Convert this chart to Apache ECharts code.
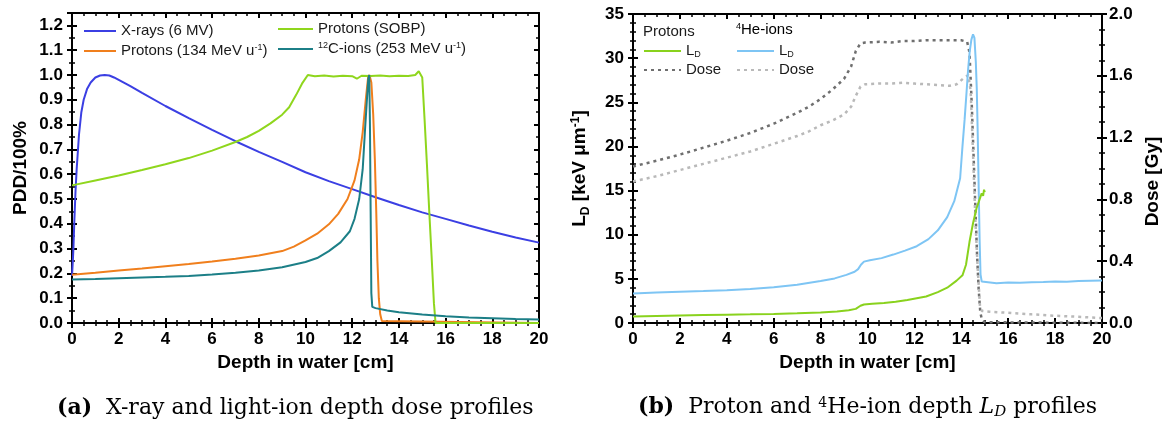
<!DOCTYPE html>
<html>
<head>
<meta charset="utf-8">
<script src="https://cdn.jsdelivr.net/npm/echarts@6/dist/echarts.min.js"></script>
<style>
  html, body { margin: 0; padding: 0; background: #ffffff; }
  #chart { width: 1167px; height: 423px; }
</style>
</head>
<body>
<div id="chart"></div>
<script>
// ---------- Panel (a): percentage depth dose, normalised ----------
const xrayDepth = [0, 0.03, 0.06, 0.1, 0.15, 0.2, 0.3, 0.4, 0.5, 0.65, 0.8, 1.0, 1.2, 1.4, 1.6, 1.8, 2.0, 2.5, 3, 4, 5, 6, 7, 8, 9, 10, 11, 12, 13, 14, 15, 16, 17, 18, 19, 20];
const xrayPdd   = [0.19, 0.24, 0.3, 0.41, 0.53, 0.62, 0.76, 0.85, 0.9, 0.945, 0.97, 0.99, 0.998, 1.0, 0.998, 0.99, 0.98, 0.955, 0.928, 0.875, 0.826, 0.779, 0.733, 0.69, 0.65, 0.608, 0.572, 0.54, 0.507, 0.476, 0.446, 0.42, 0.393, 0.368, 0.345, 0.324];

const p134Depth = [0, 1, 2, 3, 4, 5, 6, 7, 8, 9, 9.5, 10, 10.5, 11, 11.4, 11.8, 12.1, 12.3, 12.45, 12.58, 12.68, 12.74, 12.82, 12.9, 12.97, 13.03, 13.08, 13.14, 13.2, 13.27, 13.35, 20];
const p134Pdd   = [0.195, 0.203, 0.212, 0.22, 0.229, 0.238, 0.248, 0.259, 0.272, 0.29, 0.308, 0.333, 0.36, 0.398, 0.44, 0.5, 0.575, 0.66, 0.77, 0.9, 0.99, 1.0, 0.97, 0.84, 0.66, 0.45, 0.25, 0.1, 0.035, 0.008, 0.0, 0.0];

const sobpDepth = [0, 1, 2, 3, 4, 5, 6, 7, 7.5, 8, 8.5, 9, 9.3, 9.6, 9.85, 10.1, 10.4, 10.8, 11.2, 11.6, 12.0, 12.2, 12.4, 12.8, 13.2, 13.6, 14.0, 14.4, 14.7, 14.85, 14.93, 15.0, 15.1, 15.2, 15.3, 15.4, 15.5, 15.57, 20];
const sobpPdd   = [0.555, 0.575, 0.595, 0.617, 0.64, 0.665, 0.695, 0.73, 0.75, 0.775, 0.805, 0.84, 0.87, 0.92, 0.965, 1.0, 0.995, 0.998, 0.994, 0.997, 0.995, 0.985, 0.997, 0.996, 0.998, 0.995, 0.997, 0.996, 1.0, 1.015, 1.02, 0.99, 0.82, 0.64, 0.45, 0.27, 0.08, 0.0, 0.0];

const c12Depth = [0, 1, 2, 3, 4, 5, 6, 7, 8, 9, 10, 10.5, 11, 11.5, 11.9, 12.1, 12.3, 12.45, 12.55, 12.63, 12.69, 12.73, 12.76, 12.79, 12.82, 12.86, 13, 13.5, 14, 15, 16, 17, 18, 19, 20];
const c12Pdd   = [0.175, 0.177, 0.18, 0.183, 0.186, 0.19, 0.196, 0.203, 0.212, 0.225, 0.246, 0.262, 0.29, 0.325, 0.37, 0.42, 0.5, 0.62, 0.78, 0.9, 0.985, 1.0, 0.8, 0.45, 0.12, 0.065, 0.06, 0.05, 0.043, 0.034, 0.027, 0.022, 0.019, 0.016, 0.014];

// ---------- Panel (b): dose-averaged LET and dose ----------
const pLdDepth = [0, 1, 2, 3, 4, 5, 6, 7, 8, 8.7, 9.2, 9.5, 9.7, 9.85, 10.2, 10.7, 11.2, 11.7, 12.1, 12.5, 13, 13.4, 13.8, 14.05, 14.2, 14.35, 14.5, 14.65, 14.78, 14.87, 14.93, 14.97, 15.0];
const pLd      = [0.75, 0.8, 0.85, 0.9, 0.94, 0.98, 1.03, 1.1, 1.2, 1.3, 1.45, 1.6, 1.95, 2.1, 2.18, 2.26, 2.4, 2.6, 2.8, 3.0, 3.5, 4.0, 4.8, 5.4, 6.6, 9.2, 11.3, 13.0, 14.0, 14.7, 14.4, 15.1, 14.8];

const heLdDepth = [0, 1, 2, 3, 4, 5, 6, 7, 8, 8.6, 9.1, 9.45, 9.6, 9.72, 9.85, 10.1, 10.6, 11.1, 11.6, 12.1, 12.6, 13.0, 13.4, 13.7, 13.95, 14.05, 14.14, 14.22, 14.29, 14.36, 14.43, 14.5, 14.56, 14.62, 14.66, 14.7, 14.74, 14.78, 14.82, 14.87, 14.95, 15.5, 16, 16.5, 17, 17.5, 18, 18.5, 19, 19.5, 20];
const heLd      = [3.35, 3.45, 3.55, 3.62, 3.7, 3.85, 4.05, 4.33, 4.75, 5.05, 5.45, 5.8, 6.1, 6.6, 6.95, 7.1, 7.35, 7.75, 8.2, 8.7, 9.5, 10.5, 12.0, 13.8, 16.4, 20.0, 23.0, 26.0, 28.7, 30.8, 32.1, 32.7, 32.3, 29.5, 26.5, 21.5, 15.5, 9.5, 5.5, 4.7, 4.55, 4.5, 4.6, 4.55, 4.62, 4.65, 4.7, 4.68, 4.75, 4.78, 4.8];

const pDoseDepth = [0, 1, 2, 3, 4, 5, 6, 7, 7.5, 8, 8.5, 9, 9.3, 9.5, 9.7, 9.9, 10.5, 11, 11.5, 12, 12.5, 13, 13.5, 14, 14.25, 14.35, 14.45, 14.52, 14.6, 14.67, 14.74, 14.81, 14.88, 15.0, 20];
const pDose      = [1.013, 1.05, 1.09, 1.135, 1.18, 1.23, 1.29, 1.36, 1.40, 1.45, 1.51, 1.58, 1.66, 1.76, 1.81, 1.815, 1.82, 1.815, 1.825, 1.825, 1.83, 1.83, 1.83, 1.83, 1.82, 1.75, 1.4, 1.1, 0.75, 0.45, 0.22, 0.07, 0.02, 0.005, 0.0];

const heDoseDepth = [0, 1, 2, 3, 4, 5, 6, 7, 7.5, 8, 8.5, 9, 9.3, 9.5, 9.7, 9.9, 10.5, 11, 11.5, 12, 12.5, 13, 13.5, 13.8, 14.1, 14.3, 14.4, 14.5, 14.6, 14.7, 14.8, 14.88, 15.2, 16, 17, 18, 19, 20];
const heDose      = [0.916, 0.95, 0.99, 1.03, 1.07, 1.11, 1.16, 1.21, 1.24, 1.28, 1.31, 1.35, 1.40, 1.47, 1.53, 1.545, 1.55, 1.55, 1.555, 1.55, 1.545, 1.54, 1.535, 1.545, 1.585, 1.605, 1.5, 1.1, 0.67, 0.35, 0.1, 0.078, 0.073, 0.066, 0.056, 0.047, 0.04, 0.032];

// ---------- styling ----------
const SANS = '"Liberation Sans", Arial, Helvetica, sans-serif';
const SERIF = '"DejaVu Serif", "Liberation Serif", serif';
const tickFont = { color: '#000', fontFamily: SANS, fontSize: 17, fontWeight: 'bold' };
const nameFont = { color: '#000', fontFamily: SANS, fontSize: 19, fontWeight: 'bold' };

const pairs = (xs, ys) => xs.map((x, i) => [x, ys[i]]);

function makeAxis(o) {
  return {
    type: 'value',
    gridIndex: o.grid,
    position: o.position,
    min: o.min, max: o.max, interval: o.interval,
    splitLine: { show: false },
    axisLine: { show: !!o.line, onZero: false, lineStyle: { color: '#000', width: 2 } },
    axisTick: { show: true, inside: !!o.inside, length: o.tickLen || 5, lineStyle: { color: '#000', width: o.tickWidth || 2 } },
    minorTick: { show: !!o.minor, splitNumber: o.minor || 5, length: 3, lineStyle: { color: '#000', width: 1.5 } },
    axisLabel: o.label ? Object.assign({ show: true, margin: o.margin || 8 }, tickFont, { formatter: o.label }) : { show: false },
    name: o.name || '',
    nameLocation: 'middle',
    nameGap: o.nameGap || 0,
    nameRotate: o.nameRotate,
    nameTextStyle: o.nameStyle || nameFont,
    silent: true
  };
}

const fixed1 = v => v.toFixed(1);
const integer = v => String(Math.round(v));
const pddLabel = v => (Math.abs(v - 1.25) < 1e-9 ? '' : v.toFixed(1));

const xAxes = [];
const yAxes = [];
// panel (a) axes: ticks cross the frame, so each side gets an outward and an inward tick set
xAxes.push(makeAxis({ grid: 0, position: 'bottom', min: 0, max: 20, interval: 2, minor: 4, line: true, label: integer, margin: 8,
  name: 'Depth in water [cm]', nameGap: 29 }));
xAxes.push(makeAxis({ grid: 0, position: 'bottom', min: 0, max: 20, interval: 2, minor: 4, inside: true }));
xAxes.push(makeAxis({ grid: 0, position: 'top', min: 0, max: 20, interval: 2, minor: 4, inside: true, line: true }));
yAxes.push(makeAxis({ grid: 0, position: 'left', min: 0, max: 1.25, interval: 0.1, line: true, label: pddLabel, margin: 9,
  name: 'PDD/100%', nameGap: 42, nameRotate: 90 }));
yAxes.push(makeAxis({ grid: 0, position: 'left', min: 0, max: 1.25, interval: 0.1, inside: true }));
yAxes.push(makeAxis({ grid: 0, position: 'left', min: 0, max: 1.25, interval: 0.05, tickLen: 3, tickWidth: 1.5 }));
yAxes.push(makeAxis({ grid: 0, position: 'left', min: 0, max: 1.25, interval: 0.05, tickLen: 3, tickWidth: 1.5, inside: true }));
yAxes.push(makeAxis({ grid: 0, position: 'right', min: 0, max: 1.25, interval: 0.1, inside: true, line: true }));
yAxes.push(makeAxis({ grid: 0, position: 'right', min: 0, max: 1.25, interval: 0.05, tickLen: 3, tickWidth: 1.5, inside: true }));

// panel (b) axes
xAxes.push(makeAxis({ grid: 1, position: 'bottom', min: 0, max: 20, interval: 2, minor: 4, line: true, label: integer, margin: 8,
  name: 'Depth in water [cm]', nameGap: 29 }));
xAxes.push(makeAxis({ grid: 1, position: 'bottom', min: 0, max: 20, interval: 2, minor: 4, inside: true }));
xAxes.push(makeAxis({ grid: 1, position: 'top', min: 0, max: 20, interval: 2, minor: 4, inside: true, line: true }));
yAxes.push(makeAxis({ grid: 1, position: 'left', min: 0, max: 35, interval: 5, minor: 5, line: true, label: integer, margin: 9,
  name: '{b|L}{sub|D}{b| [keV μm}{sup|-1}{b|]}', nameGap: 41, nameRotate: 90,
  nameStyle: {
    rich: {
      b:   { fontFamily: SANS, fontSize: 19, fontWeight: 'bold', color: '#000', lineHeight: 22, verticalAlign: 'top' },
      sub: { fontFamily: SANS, fontSize: 12, fontWeight: 'bold', color: '#000', lineHeight: 12, verticalAlign: 'bottom', padding: [14, 0, 0, 0] },
      sup: { fontFamily: SANS, fontSize: 12, fontWeight: 'bold', color: '#000', lineHeight: 12, verticalAlign: 'top' }
    }
  } }));
yAxes.push(makeAxis({ grid: 1, position: 'left', min: 0, max: 35, interval: 5, minor: 5, inside: true }));
yAxes.push(makeAxis({ grid: 1, position: 'right', min: 0, max: 2, interval: 0.4, minor: 4, line: true, label: fixed1, margin: 7,
  name: 'Dose [Gy]', nameGap: 41, nameRotate: 90,
  nameStyle: Object.assign({}, nameFont, { padding: [0, 26, 0, 0] }) }));
yAxes.push(makeAxis({ grid: 1, position: 'right', min: 0, max: 2, interval: 0.4, minor: 4, inside: true }));

const Y_LD = 6, Y_DOSE = 8;

function lineSeries(name, x, y, color, xi, yi, extra) {
  return Object.assign({
    name, type: 'line', xAxisIndex: xi, yAxisIndex: yi,
    data: pairs(x, y), symbol: 'none', showSymbol: false, silent: true,
    lineStyle: { color, width: 2 }, itemStyle: { color },
    animation: false, z: 5
  }, extra || {});
}

const dotted = { type: [3, 4], width: 2.5 };

const series = [
  lineSeries('xray', xrayDepth, xrayPdd, '#3b3fe3', 0, 0),
  lineSeries('p134', p134Depth, p134Pdd, '#f07f1d', 0, 0),
  lineSeries('sobp', sobpDepth, sobpPdd, '#8fd61d', 0, 0),
  lineSeries('c12', c12Depth, c12Pdd, '#1c7f87', 0, 0),
  lineSeries('pDose', pDoseDepth, pDose, '#6f6f6f', 3, Y_DOSE, { lineStyle: Object.assign({ color: '#6f6f6f' }, dotted) }),
  lineSeries('heDose', heDoseDepth, heDose, '#b9b9b9', 3, Y_DOSE, { lineStyle: Object.assign({ color: '#b9b9b9' }, dotted) }),
  lineSeries('heLd', heLdDepth, heLd, '#7ec5f4', 3, Y_LD),
  lineSeries('pLd', pLdDepth, pLd, '#89d21d', 3, Y_LD)
];

const legendText = {
  xray:  '{t|X-rays (6 MV)}',
  p134:  '{t|Protons (134 MeV u}{sup|-1}{t|)}',
  sobp:  '{t|Protons (SOBP)}',
  c12:   '{sup|12}{t|C-ions (253 MeV u}{sup|-1}{t|)}',
  pLd:   '{t|L}{sub|D}',
  pDose: '{t|Dose}',
  heLd:  '{t|L}{sub|D}',
  heDose:'{t|Dose}'
};
const legendRich = {
  t:   { fontFamily: SANS, fontSize: 15, color: '#1a1a1a', lineHeight: 16, verticalAlign: 'top' },
  sup: { fontFamily: SANS, fontSize: 9, color: '#1a1a1a', lineHeight: 9, verticalAlign: 'top' },
  sub: { fontFamily: SANS, fontSize: 9, color: '#1a1a1a', lineHeight: 9, verticalAlign: 'bottom', padding: [11, 0, 0, 0] }
};
function legendBox(names, left, top, width, gap) {
  return {
    data: names, left, top, orient: 'vertical', itemWidth: width, itemHeight: 14, itemGap: gap,
    selectedMode: false, padding: 0,
    itemStyle: { opacity: 0 },
    formatter: n => legendText[n],
    textStyle: { rich: legendRich }
  };
}

const option = {
  animation: false,
  backgroundColor: '#ffffff',
  grid: [
    { left: 72, top: 13, width: 467, height: 310, outerBoundsMode: 'none' },
    { left: 633, top: 14, width: 469, height: 309, outerBoundsMode: 'none' }
  ],
  xAxis: xAxes,
  yAxis: yAxes,
  legend: [
    legendBox(['xray', 'p134'], 83, 23, 32, 5),
    legendBox(['sobp', 'c12'], 277, 21, 35, 5),
    legendBox(['pLd', 'pDose'], 643, 39, 37, 3),
    legendBox(['heLd', 'heDose'], 736, 39, 37, 3)
  ],
  graphic: [
    { type: 'text', x: 643, y: 24, silent: true,
      style: { text: 'Protons', font: '15px ' + SANS, fill: '#1a1a1a' } },
    { type: 'text', x: 736, y: 22, silent: true,
      style: { text: '{sup|4}{t|He-ions}', rich: legendRich } },
    { type: 'text', x: 57, y: 408, silent: true,
      style: {
        text: '{b|(a)}{r|  X-ray and light-ion depth dose profiles}',
        align: 'left', verticalAlign: 'middle',
        rich: {
          b: { fontFamily: SERIF, fontSize: 22, fontWeight: 'bold', fill: '#000' },
          r: { fontFamily: SERIF, fontSize: 22, fill: '#000' }
        }
      } },
    { type: 'text', x: 638, y: 408, silent: true,
      style: {
        text: '{b|(b)}{r|  Proton and }{sup|4}{r|He-ion depth }{i|L}{isub|D}{r| profiles}',
        align: 'left', verticalAlign: 'middle',
        rich: {
          b:    { fontFamily: SERIF, fontSize: 22, fontWeight: 'bold', fill: '#000', lineHeight: 24, verticalAlign: 'top' },
          r:    { fontFamily: SERIF, fontSize: 22, fill: '#000', lineHeight: 24, verticalAlign: 'top' },
          i:    { fontFamily: SERIF, fontSize: 22, fontStyle: 'italic', fill: '#000', lineHeight: 24, verticalAlign: 'top' },
          sup:  { fontFamily: SERIF, fontSize: 14, fill: '#000', lineHeight: 14, verticalAlign: 'top' },
          isub: { fontFamily: SERIF, fontSize: 15, fontStyle: 'italic', fill: '#000', lineHeight: 15, verticalAlign: 'bottom', padding: [13, 0, 0, 0] }
        }
      } }
  ],
  series
};

const chart = echarts.init(document.getElementById('chart'), null, { renderer: 'canvas' });
chart.setOption(option);
</script>
</body>
</html>
